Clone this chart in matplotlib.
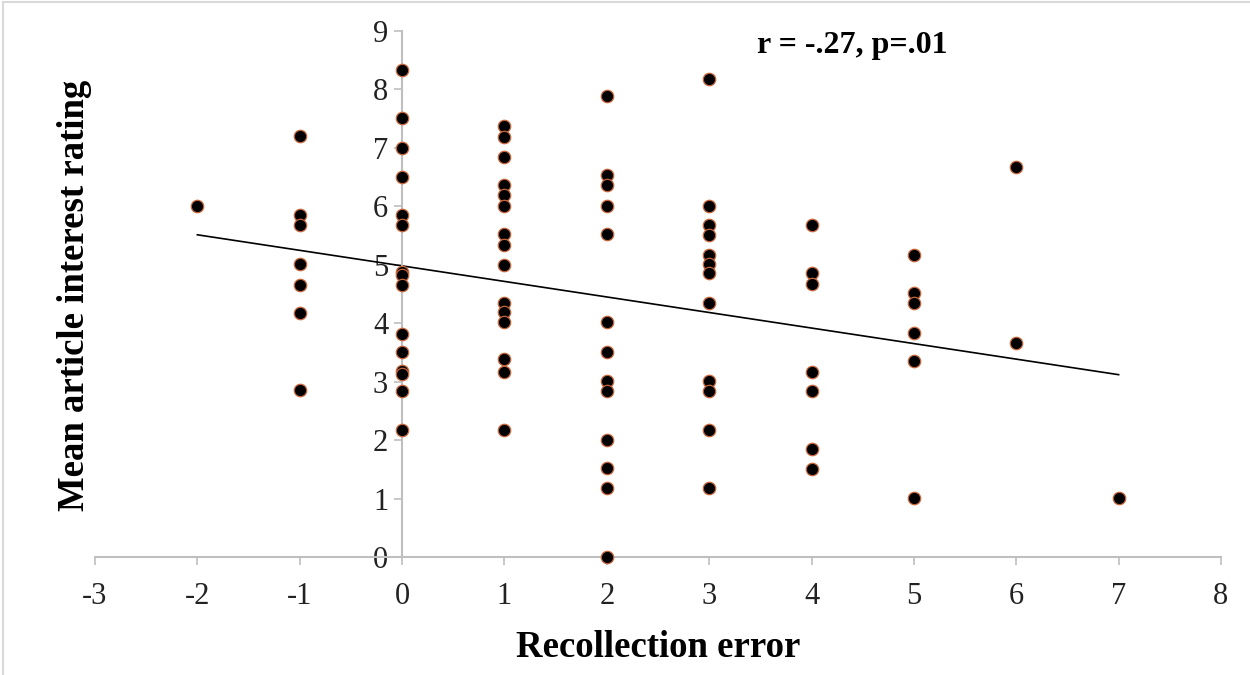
import numpy as np
import matplotlib
matplotlib.use('Agg')
import matplotlib.pyplot as plt
from matplotlib.lines import Line2D

# recollection error -> mean article interest ratings
err_m2 = [6.0]
err_m1 = [7.2, 5.85, 5.68, 5.02, 4.66, 4.18, 2.85]
err_0 = [8.34, 7.51, 7.0, 6.51, 5.85, 5.68, 4.88, 4.83, 4.66, 3.82, 3.5, 3.18, 3.13, 2.84, 2.17]
err_1 = [7.37, 7.19, 6.84, 6.37, 6.19, 6.0, 5.52, 5.34, 5.0, 4.35, 4.19, 4.02, 3.38, 3.16, 2.18]
err_2 = [7.88, 6.53, 6.36, 6.0, 5.52, 4.02, 3.5, 3.01, 2.84, 2.01, 1.52, 1.18, 0.0]
err_3 = [8.18, 6.0, 5.68, 5.51, 5.17, 5.02, 4.86, 4.35, 3.01, 2.84, 2.18, 1.18]
err_4 = [5.68, 4.86, 4.67, 3.16, 2.84, 1.85, 1.5]
err_5 = [5.17, 4.51, 4.35, 3.84, 3.36, 1.01]
err_6 = [6.68, 3.67]
err_7 = [1.01]

groups = {-2: err_m2, -1: err_m1, 0: err_0, 1: err_1, 2: err_2,
          3: err_3, 4: err_4, 5: err_5, 6: err_6, 7: err_7}

x_ticks = list(range(-3, 9))
y_ticks = list(range(0, 10))
stat_label = 'r = -.27, p=.01'

plt.rcParams['font.family'] = ['Liberation Serif', 'DejaVu Serif']
plt.rcParams['axes.unicode_minus'] = False


def main():
    xs = np.concatenate([[k] * len(v) for k, v in groups.items()]).astype(float)
    ys = np.concatenate([v for v in groups.values()])

    fig = plt.figure(figsize=(12.5, 6.75), dpi=100)
    ax = fig.add_axes([0.076, 0.1748, 0.9008, 0.7793])

    # y axis crosses at x = 0, like the spreadsheet original
    ax.spines['top'].set_visible(False)
    ax.spines['right'].set_visible(False)
    ax.spines['left'].set_position(('data', 0))
    for sp in ('left', 'bottom'):
        ax.spines[sp].set_color('#bfbfbf')
        ax.spines[sp].set_linewidth(1.5)

    # linear trend over the observed range
    slope, icpt = np.polyfit(xs, ys, 1)
    lx = np.array([xs.min(), xs.max()])
    ax.plot(lx, slope * lx + icpt, color='black', lw=1.2, zorder=2)

    ax.scatter(xs, ys, s=80, color='black', edgecolors='#c8663a',
               linewidths=0.9, zorder=3, clip_on=False)

    ax.set_xlim(-3, 8)
    ax.set_ylim(0, 9)
    ax.set_xticks(x_ticks)
    ax.set_yticks(y_ticks)
    ax.tick_params(axis='both', direction='out', length=6, width=1.2,
                   color='#bfbfbf', labelcolor='#222222', labelsize=22)
    ax.tick_params(axis='x', pad=12)
    ax.tick_params(axis='y', pad=4)

    ax.set_xlabel('Recollection error', fontsize=26.5,
                  fontweight='bold', labelpad=14)
    fig.text(0.06, 0.563, 'Mean article interest rating',
             fontsize=26.5, fontweight='bold', rotation=90,
             ha='center', va='center')

    ax.text(4.4, 8.76, stat_label, fontsize=23,
            fontweight='bold', ha='center', va='center')

    # light chart frame along the top and left edges
    fig.add_artist(Line2D([0.002, 1.0], [0.997, 0.997], color='#d9d9d9',
                          lw=1.5, transform=fig.transFigure))
    fig.add_artist(Line2D([0.002, 0.002], [0.0, 0.997], color='#d9d9d9',
                          lw=1.5, transform=fig.transFigure))

    fig.savefig('out.png', dpi=100)


if __name__ == '__main__':
    main()
